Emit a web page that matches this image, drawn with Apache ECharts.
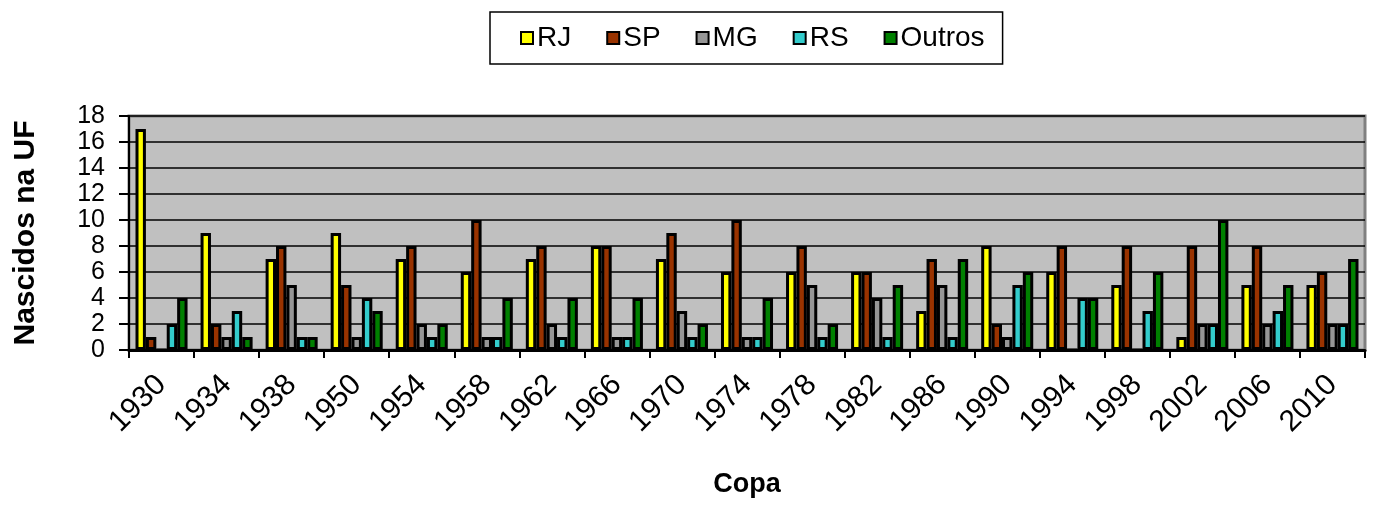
<!DOCTYPE html>
<html>
<head>
<meta charset="utf-8">
<script src="https://cdn.jsdelivr.net/npm/echarts@6/dist/echarts.min.js"></script>
<style>
  html, body { margin: 0; padding: 0; background: #fff; }
  #chart { width: 1376px; height: 506px; }
</style>
</head>
<body>
<div id="chart"></div>
<script>
// anos das copas
const copas = ['1930', '1934', '1938', '1950', '1954', '1958', '1962', '1966', '1970', '1974',
  '1978', '1982', '1986', '1990', '1994', '1998', '2002', '2006', '2010'];

// jogadores nascidos em cada UF
const rj = [17, 9, 7, 9, 7, 6, 7, 8, 7, 6, 6, 6, 3, 8, 6, 5, 1, 5, 5];
const sp = [1, 2, 8, 5, 8, 10, 8, 8, 9, 10, 8, 6, 7, 2, 8, 8, 8, 8, 6];
const mg = [0, 1, 5, 1, 2, 1, 2, 1, 3, 1, 5, 4, 5, 1, 0, 0, 2, 2, 2];
const rs = [2, 3, 1, 4, 1, 1, 1, 1, 1, 1, 1, 1, 1, 5, 4, 3, 2, 3, 2];
const outros = [4, 1, 1, 3, 2, 4, 4, 4, 2, 4, 2, 5, 7, 6, 4, 6, 10, 5, 7];

const yTicks = { min: 0, max: 18, interval: 2 };

const font = 'Liberation Sans, Arial, sans-serif';

const chart = echarts.init(document.getElementById('chart'));

function serie(name, data, color) {
  return {
    name: name,
    type: 'bar',
    data: data,
    barGap: '0%',
    barCategoryGap: '20%',
    itemStyle: { color: color, borderColor: '#000', borderWidth: 3 },
    animation: false
  };
}

chart.setOption({
  backgroundColor: '#fff',
  textStyle: { fontFamily: font, color: '#000' },
  legend: {
    left: 490,
    top: 12,
    padding: [12, 18, 12, 30],
    itemGap: 35,
    itemWidth: 12,
    itemHeight: 12,
    icon: 'rect',
    borderColor: '#000',
    borderWidth: 1.5,
    textStyle: { fontSize: 28, fontFamily: font, color: '#000', padding: [0, 0, 0, -1] },
    itemStyle: { borderColor: '#000', borderWidth: 2 }
  },
  grid: {
    left: 129,
    right: 11,
    top: 116,
    bottom: 156,
    outerBoundsMode: 'none',
    show: true,
    backgroundColor: '#C0C0C0',
    borderColor: '#808080',
    borderWidth: 3
  },
  xAxis: {
    type: 'category',
    data: copas,
    name: 'Copa',
    nameLocation: 'middle',
    nameGap: 121,
    nameTextStyle: { fontSize: 27, fontWeight: 'bold', color: '#000', fontFamily: font },
    axisLine: { lineStyle: { color: '#000', width: 3 } },
    axisTick: { show: true, length: 8, lineStyle: { color: '#000', width: 2 } },
    axisLabel: { rotate: 45, fontSize: 30, color: '#000', margin: 30, fontFamily: font, hideOverlap: false }
  },
  yAxis: {
    type: 'value',
    min: yTicks.min,
    max: yTicks.max,
    interval: yTicks.interval,
    name: 'Nascidos na UF',
    nameLocation: 'middle',
    nameGap: 88,
    nameRotate: 90,
    nameTextStyle: { fontSize: 30, fontWeight: 'bold', color: '#000', fontFamily: font },
    axisLine: { show: true, lineStyle: { color: '#000', width: 2 } },
    axisTick: { show: true, length: 10, lineStyle: { color: '#000', width: 2 } },
    axisLabel: { fontSize: 25, color: '#000', margin: 24, fontFamily: font, showMinLabel: true, showMaxLabel: true, hideOverlap: false },
    splitLine: { lineStyle: { color: '#000', width: 1.5 } }
  },
  series: [
    serie('RJ', rj, '#FFFF00'),
    serie('SP', sp, '#993300'),
    serie('MG', mg, '#969696'),
    serie('RS', rs, '#33CCCC'),
    serie('Outros', outros, '#008000')
  ]
});
</script>
</body>
</html>
